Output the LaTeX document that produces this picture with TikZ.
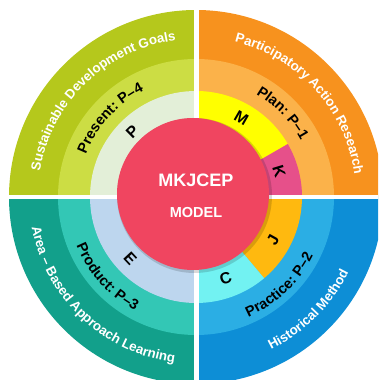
\documentclass[tikz,border=0pt]{standalone}
\usepackage{fontspec}
\setmainfont{Liberation Sans}
\usetikzlibrary{decorations.text}
\definecolor{tlO}{HTML}{B5C81C}
\definecolor{tlM}{HTML}{CCDD44}
\definecolor{tlI}{HTML}{E3EFD8}
\definecolor{trO}{HTML}{F7921E}
\definecolor{trM}{HTML}{FBB24A}
\definecolor{yelM}{HTML}{FFFF00}
\definecolor{pinK}{HTML}{E6508A}
\definecolor{brO}{HTML}{0D8ED6}
\definecolor{brM}{HTML}{2BAEE4}
\definecolor{golJ}{HTML}{FFB90F}
\definecolor{cyaC}{HTML}{72F2F2}
\definecolor{blO}{HTML}{12A08B}
\definecolor{blM}{HTML}{33C7B5}
\definecolor{bluE}{HTML}{BDD6EE}
\definecolor{coreR}{HTML}{F04560}
\newcommand\mysector[4]{\fill[#1] (C) -- ([shift={(#2:#4)}]C) arc[start angle=#2,end angle=#3,radius=#4] -- cycle;}
\newcommand\outerfmt{\fontsize{13.3}{15}\selectfont\bfseries\color{white}}
\newcommand\midfmt{\fontsize{14.5}{16}\selectfont\bfseries\color{black}}
\begin{document}
\begin{tikzpicture}[x=1pt,y=1pt,
  letter/.style={font=\fontsize{16}{18}\selectfont\bfseries, text=black, inner sep=0pt},
  arctext/.style={decorate, decoration={text along path, text align=center, text={#1}}}]
\useasboundingbox (0,0) rectangle (378,380);
\clip (0,0) rectangle (378,380);
\coordinate (C) at (196,183);
% top-left
\mysector{tlO}{90}{180}{187}
\mysector{tlM}{90}{180}{138}
\mysector{tlI}{90}{180}{106}
% top-right
\mysector{trO}{0}{90}{187}
\mysector{trM}{0}{90}{138}
\mysector{yelM}{30}{90}{106}
\mysector{pinK}{0}{30}{106}
% bottom-right
\mysector{brO}{-90}{0}{187}
\mysector{brM}{-90}{0}{138}
\mysector{golJ}{-50}{0}{106}
\mysector{cyaC}{-90}{-50}{106}
% bottom-left
\mysector{blO}{180}{270}{187}
\mysector{blM}{180}{270}{138}
\mysector{bluE}{180}{270}{106}
% gaps
\fill[white] ([shift={(-200,-2.2)}]C) rectangle ([shift={(200,2.2)}]C);
\fill[white] ([shift={(-2.5,-200)}]C) rectangle ([shift={(2.5,200)}]C);
% outer texts
\path[arctext={|\outerfmt|Sustainable Development Goals}] ([shift={(178:158)}]C) arc[start angle=178,end angle=90,radius=158];
\path[arctext={|\outerfmt|Participatory Action Research}] ([shift={(86:160)}]C) arc[start angle=86,end angle=-2,radius=160];
\path[arctext={|\outerfmt|Area – Based Approach Learning}] ([shift={(182:167)}]C) arc[start angle=182,end angle=271,radius=167];
\path[arctext={|\outerfmt|Historical Method}] ([shift={(-88:170)}]C) arc[start angle=-88,end angle=-2,radius=170];
% middle texts
\path[arctext={|\midfmt|Present: P–4}] ([shift={(172:118)}]C) arc[start angle=172,end angle=103,radius=118];
\path[arctext={|\midfmt|Plan: P–1}] ([shift={(82:119)}]C) arc[start angle=82,end angle=6,radius=119];
\path[arctext={|\midfmt|Practice: P–2}] ([shift={(-87:131)}]C) arc[start angle=-87,end angle=-6,radius=131];
\path[arctext={|\midfmt|Product: P–3}] ([shift={(183:129)}]C) arc[start angle=183,end angle=261,radius=129];
% core
\fill[black, opacity=0.15] (194.5,184.5) circle (77.5);
\node[circle, fill=coreR, minimum size=152pt, inner sep=0pt] (core) at (193,186) {};
\node[font=\fontsize{18}{20}\selectfont\bfseries, text=white] (t1) at (196,200) {MKJCEP};
\node[font=\fontsize{14.5}{16}\selectfont\bfseries, text=white] (t2) at (196,167) {MODEL};
% letters
\node[letter, rotate=44.5] (lP) at ([shift={(134.5:91)}]C) {P};
\node[letter, rotate=-30] (lM) at ([shift={(60:91)}]C) {M};
\node[letter, rotate=-73] (lK) at ([shift={(17:87)}]C) {K};
\node[letter, rotate=61] (lJ) at ([shift={(-29:88)}]C) {J};
\node[letter, rotate=20] (lC) at ([shift={(-70:87)}]C) {C};
\node[letter, rotate=-47] (lE) at ([shift={(223:90)}]C) {E};
\end{tikzpicture}
\end{document}
